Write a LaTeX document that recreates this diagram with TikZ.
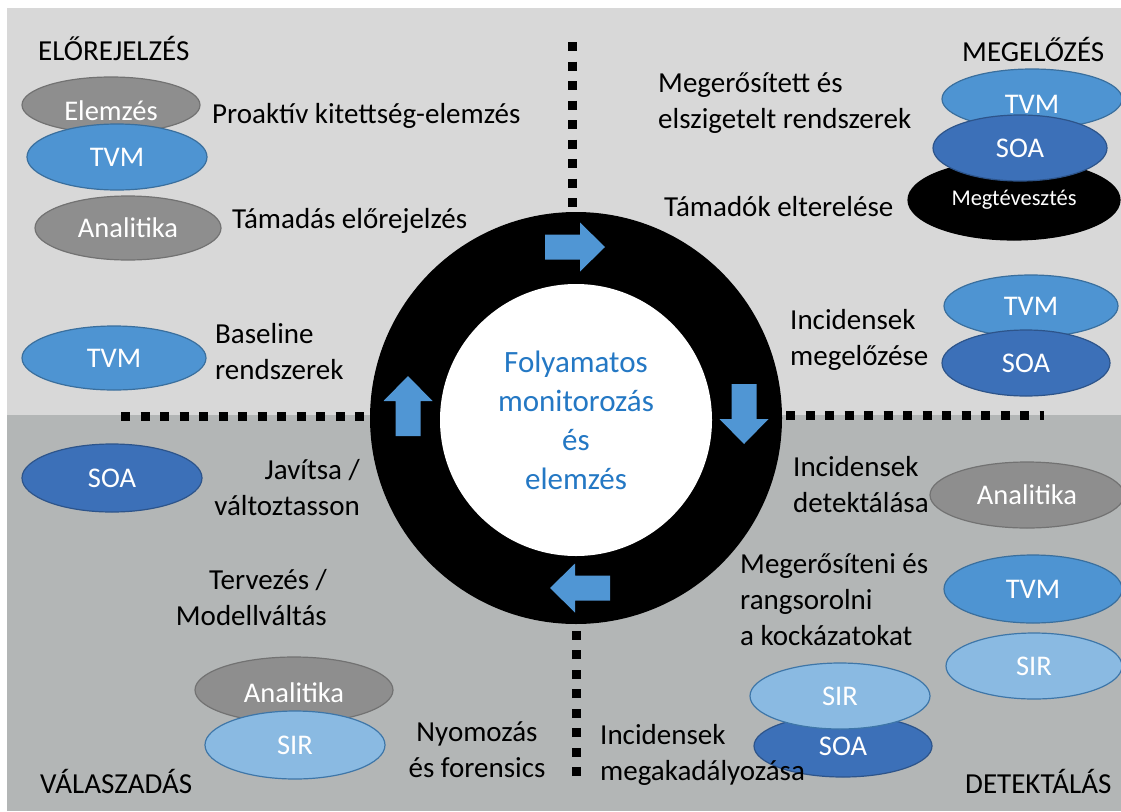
\documentclass[tikz,border=0pt]{standalone}
\usepackage{fontspec}
\setmainfont{Carlito}
\usetikzlibrary{shapes.geometric}

\definecolor{topgrey}{RGB}{216,216,216}
\definecolor{botgrey}{RGB}{179,182,182}
\definecolor{tvmblue}{RGB}{78,148,210}
\definecolor{soablue}{RGB}{60,112,184}
\definecolor{sirblue}{RGB}{138,186,226}
\definecolor{anagrey}{RGB}{142,142,142}
\definecolor{arrowblue}{RGB}{80,150,212}
\definecolor{hubtext}{RGB}{36,120,196}

\begin{document}
\begin{tikzpicture}[x=1pt,y=-1pt,
  tag/.style={ellipse, inner sep=0pt, line width=1.2pt, text=white,
    font=\fontsize{28.5}{34}\selectfont},
  greytag/.style={tag, fill=anagrey, draw=anagrey!80!black},
  tvmtag/.style={tag, fill=tvmblue, draw=tvmblue!75!black},
  soatag/.style={tag, fill=soablue, draw=soablue!75!black},
  sirtag/.style={tag, fill=sirblue, draw=tvmblue!80!black},
  blacktag/.style={tag, fill=black, draw=black, font=\fontsize{22.5}{27}\selectfont},
  tagtext/.style={inner sep=0pt, text=white, font=\fontsize{28.5}{34}\selectfont},
  lbl/.style={inner sep=0pt, text=black, font=\fontsize{29}{36}\selectfont,
    align=left, anchor=west},
  divider/.style={line width=9pt, dash pattern=on 9pt off 10.5pt},
  flowarrow/.pic={\fill[arrowblue] (-30,-12.5) -- (5,-12.5) -- (5,-24.5) -- (30,0)
    -- (5,24.5) -- (5,12.5) -- (-30,12.5) -- cycle;}
]
\useasboundingbox (0,0) rectangle (1121,811);
\fill[white] (0,0) rectangle (1121,811);

% two quadrant bands
\fill[topgrey] (7,8) rectangle (1121,415);
\fill[botgrey] (7,415) rectangle (1121,811);

% dotted dividers between the four phases
\coordinate (dtop1) at (572,42);
\coordinate (dtop2) at (572,215);
\coordinate (dbot1) at (576,776);
\coordinate (dbot2) at (576,615);
\coordinate (dleft1) at (121,416);
\coordinate (dleft2) at (380,416);
\coordinate (dright1) at (786,415);
\coordinate (dright2) at (1044,415);
\draw[divider] (dtop1) -- (dtop2);
\draw[divider] (dbot1) -- (dbot2);
\draw[divider] (dleft1) -- (dleft2);
\draw[divider] (dright1) -- (dright2);

% central ring
\node[circle, fill=black, minimum size=412pt, inner sep=0pt] (ring) at (576,418) {};
\node[circle, fill=white, minimum size=272pt, inner sep=0pt, align=center,
  text=hubtext, font=\fontsize{31}{39}\selectfont] (hub) at (576,420)
  {Folyamatos\\monitorozás\\és\\elemzés};

% cycle arrows on the ring
\pic at (575,247) {flowarrow};
\pic[rotate=-90] at (744,414) {flowarrow};
\pic[rotate=180] at (580,588) {flowarrow};
\pic[rotate=90] at (408,406) {flowarrow};

% ELŐREJELZÉS quadrant
\node[greytag, minimum width=178pt, minimum height=56pt] (elemzes) at (111,105) {};
\node[tagtext] (elemzestext) at ([yshift=-6pt]elemzes.center) {Elemzés};
\node[tvmtag, minimum width=180pt, minimum height=66pt] (tvma) at (117,157) {TVM};
\node[greytag, minimum width=186pt, minimum height=64pt] (anaa) at (128,228) {Analitika};
\node[tvmtag, minimum width=184pt, minimum height=64pt] (tvmb) at (114,358) {TVM};

% MEGELŐZÉS quadrant
\node[tvmtag, minimum width=180pt, minimum height=60pt] (tvmc) at (1032,99) {};
\node[tagtext] (tvmctext) at ([yshift=-5pt]tvmc.center) {TVM};
\node[blacktag, minimum width=212pt, minimum height=80pt] (megt) at (1014,200) {Megtévesztés};
\node[soatag, minimum width=174pt, minimum height=66pt] (soaa) at (1020,148) {SOA};
\node[tvmtag, minimum width=174pt, minimum height=62pt] (tvmd) at (1031,306) {TVM};
\node[soatag, minimum width=168pt, minimum height=66pt] (soab) at (1026,363) {SOA};

% DETEKTÁLÁS quadrant
\node[greytag, minimum width=194pt, minimum height=66pt] (anab) at (1027,495) {Analitika};
\node[tvmtag, minimum width=178pt, minimum height=68pt] (tvme) at (1033,589) {TVM};
\node[sirtag, minimum width=176pt, minimum height=66pt] (sira) at (1034,666) {SIR};
\node[soatag, minimum width=178pt, minimum height=62pt] (soac) at (843,746) {SOA};
\node[sirtag, minimum width=180pt, minimum height=66pt] (sirb) at (840,696) {SIR};

% VÁLASZADÁS quadrant
\node[soatag, minimum width=180pt, minimum height=68pt] (soad) at (112,478) {SOA};
\node[greytag, minimum width=198pt, minimum height=66pt] (anac) at (294,690) {};
\node[tagtext] (anactext) at ([yshift=-3pt]anac.center) {Analitika};
\node[sirtag, minimum width=180pt, minimum height=68pt] (sirc) at (295,745) {SIR};

% quadrant titles
\node[lbl] (t1) at (38,48) {ELŐREJELZÉS};
\node[lbl] (t2) at (962,49) {MEGELŐZÉS};
\node[lbl] (t3) at (40,781) {VÁLASZADÁS};
\node[lbl] (t4) at (965,781) {DETEKTÁLÁS};

% activity labels
\node[lbl] (l1) at (212,116) {Proaktív kitettség-elemzés};
\node[lbl] (l2) at (232,221) {Támadás előrejelzés};
\node[lbl] (l3) at (215,352) {Baseline\\rendszerek};
\node[lbl] (l4) at (658,103) {Megerősített és\\elszigetelt rendszerek};
\node[lbl] (l5) at (664,207) {Támadók elterelése};
\node[lbl] (l6) at (790,340) {Incidensek\\megelőzése};
\node[lbl] (l7) at (793,485) {Incidensek\\detektálása};
\node[lbl] (l8) at (740,600) {Megerősíteni és\\rangsorolni\\a kockázatokat};
\node[lbl] (l9) at (600,755) {Incidensek\\megakadályozása};
\node[lbl, align=center, anchor=center] (l10) at (477,750) {Nyomozás\\és forensics};
\node[lbl, align=right, anchor=east] (l11) at (327,598) {Tervezés /\\Modellváltás};
\node[lbl, align=right, anchor=east] (l12) at (360,488) {Javítsa /\hspace{10pt}\\változtasson};
\end{tikzpicture}
\end{document}
